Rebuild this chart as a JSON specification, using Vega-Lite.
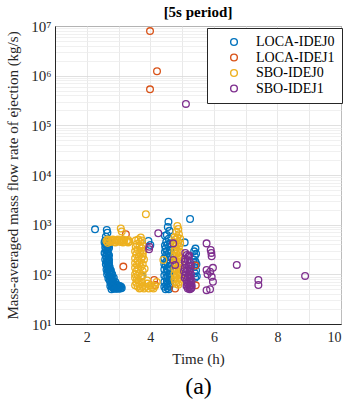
{
  "$schema": "https://vega.github.io/schema/vega-lite/v6.json",
  "width": 286,
  "height": 298,
  "autosize": {"type": "none"},
  "padding": {"left": 55, "top": 26, "right": 8, "bottom": 80},
  "config": {
    "font": "Liberation Serif",
    "view": {"stroke": "#262626", "strokeWidth": 1},
    "legend": {"labelFont": "Liberation Serif"},
    "axis": {"labelFont": "Liberation Serif", "titleFont": "Liberation Serif"}
  },
  "title": {"text": "[5s period]", "fontSize": 15, "fontWeight": "bold", "font": "Liberation Serif", "color": "#000000", "offset": -1},
  "data": {"values": [
    {"t": 2.26, "q": 805, "s": "LOCA-IDEJ0"},
    {"t": 2.63, "q": 780, "s": "LOCA-IDEJ0"},
    {"t": 2.65, "q": 690, "s": "LOCA-IDEJ0"},
    {"t": 2.6, "q": 570, "s": "LOCA-IDEJ0"},
    {"t": 2.58, "q": 480, "s": "LOCA-IDEJ0"},
    {"t": 2.62, "q": 450, "s": "LOCA-IDEJ0"},
    {"t": 2.66, "q": 420, "s": "LOCA-IDEJ0"},
    {"t": 2.6, "q": 390, "s": "LOCA-IDEJ0"},
    {"t": 2.64, "q": 360, "s": "LOCA-IDEJ0"},
    {"t": 2.7, "q": 340, "s": "LOCA-IDEJ0"},
    {"t": 2.6, "q": 310, "s": "LOCA-IDEJ0"},
    {"t": 2.66, "q": 290, "s": "LOCA-IDEJ0"},
    {"t": 2.62, "q": 270, "s": "LOCA-IDEJ0"},
    {"t": 2.68, "q": 250, "s": "LOCA-IDEJ0"},
    {"t": 2.6, "q": 230, "s": "LOCA-IDEJ0"},
    {"t": 2.64, "q": 210, "s": "LOCA-IDEJ0"},
    {"t": 2.7, "q": 195, "s": "LOCA-IDEJ0"},
    {"t": 2.62, "q": 180, "s": "LOCA-IDEJ0"},
    {"t": 2.66, "q": 165, "s": "LOCA-IDEJ0"},
    {"t": 2.7, "q": 150, "s": "LOCA-IDEJ0"},
    {"t": 2.64, "q": 140, "s": "LOCA-IDEJ0"},
    {"t": 2.68, "q": 130, "s": "LOCA-IDEJ0"},
    {"t": 2.74, "q": 120, "s": "LOCA-IDEJ0"},
    {"t": 2.66, "q": 112, "s": "LOCA-IDEJ0"},
    {"t": 2.72, "q": 105, "s": "LOCA-IDEJ0"},
    {"t": 2.78, "q": 98, "s": "LOCA-IDEJ0"},
    {"t": 2.7, "q": 92, "s": "LOCA-IDEJ0"},
    {"t": 2.76, "q": 86, "s": "LOCA-IDEJ0"},
    {"t": 2.82, "q": 80, "s": "LOCA-IDEJ0"},
    {"t": 2.72, "q": 76, "s": "LOCA-IDEJ0"},
    {"t": 2.8, "q": 72, "s": "LOCA-IDEJ0"},
    {"t": 2.86, "q": 68, "s": "LOCA-IDEJ0"},
    {"t": 2.76, "q": 64, "s": "LOCA-IDEJ0"},
    {"t": 2.84, "q": 61, "s": "LOCA-IDEJ0"},
    {"t": 2.9, "q": 58, "s": "LOCA-IDEJ0"},
    {"t": 2.8, "q": 56, "s": "LOCA-IDEJ0"},
    {"t": 2.88, "q": 54, "s": "LOCA-IDEJ0"},
    {"t": 2.96, "q": 53, "s": "LOCA-IDEJ0"},
    {"t": 2.84, "q": 52, "s": "LOCA-IDEJ0"},
    {"t": 2.92, "q": 51, "s": "LOCA-IDEJ0"},
    {"t": 3.0, "q": 51, "s": "LOCA-IDEJ0"},
    {"t": 3.06, "q": 52, "s": "LOCA-IDEJ0"},
    {"t": 2.78, "q": 50, "s": "LOCA-IDEJ0"},
    {"t": 2.98, "q": 55, "s": "LOCA-IDEJ0"},
    {"t": 3.04, "q": 58, "s": "LOCA-IDEJ0"},
    {"t": 2.95, "q": 62, "s": "LOCA-IDEJ0"},
    {"t": 2.9, "q": 70, "s": "LOCA-IDEJ0"},
    {"t": 2.85, "q": 85, "s": "LOCA-IDEJ0"},
    {"t": 2.8, "q": 100, "s": "LOCA-IDEJ0"},
    {"t": 2.76, "q": 120, "s": "LOCA-IDEJ0"},
    {"t": 2.72, "q": 140, "s": "LOCA-IDEJ0"},
    {"t": 2.7, "q": 170, "s": "LOCA-IDEJ0"},
    {"t": 2.68, "q": 200, "s": "LOCA-IDEJ0"},
    {"t": 2.7, "q": 240, "s": "LOCA-IDEJ0"},
    {"t": 2.66, "q": 320, "s": "LOCA-IDEJ0"},
    {"t": 2.7, "q": 400, "s": "LOCA-IDEJ0"},
    {"t": 2.56, "q": 440, "s": "LOCA-IDEJ0"},
    {"t": 2.68, "q": 460, "s": "LOCA-IDEJ0"},
    {"t": 2.58, "q": 350, "s": "LOCA-IDEJ0"},
    {"t": 2.68, "q": 370, "s": "LOCA-IDEJ0"},
    {"t": 2.56, "q": 270, "s": "LOCA-IDEJ0"},
    {"t": 2.64, "q": 250, "s": "LOCA-IDEJ0"},
    {"t": 2.58, "q": 200, "s": "LOCA-IDEJ0"},
    {"t": 2.66, "q": 185, "s": "LOCA-IDEJ0"},
    {"t": 2.6, "q": 160, "s": "LOCA-IDEJ0"},
    {"t": 2.68, "q": 145, "s": "LOCA-IDEJ0"},
    {"t": 2.62, "q": 125, "s": "LOCA-IDEJ0"},
    {"t": 2.7, "q": 115, "s": "LOCA-IDEJ0"},
    {"t": 2.64, "q": 100, "s": "LOCA-IDEJ0"},
    {"t": 2.74, "q": 90, "s": "LOCA-IDEJ0"},
    {"t": 2.68, "q": 82, "s": "LOCA-IDEJ0"},
    {"t": 2.78, "q": 78, "s": "LOCA-IDEJ0"},
    {"t": 2.74, "q": 70, "s": "LOCA-IDEJ0"},
    {"t": 2.82, "q": 65, "s": "LOCA-IDEJ0"},
    {"t": 2.8, "q": 60, "s": "LOCA-IDEJ0"},
    {"t": 2.86, "q": 57, "s": "LOCA-IDEJ0"},
    {"t": 2.94, "q": 56, "s": "LOCA-IDEJ0"},
    {"t": 3.02, "q": 54, "s": "LOCA-IDEJ0"},
    {"t": 3.1, "q": 53, "s": "LOCA-IDEJ0"},
    {"t": 2.9, "q": 52, "s": "LOCA-IDEJ0"},
    {"t": 2.82, "q": 54, "s": "LOCA-IDEJ0"},
    {"t": 2.74, "q": 58, "s": "LOCA-IDEJ0"},
    {"t": 3.08, "q": 56, "s": "LOCA-IDEJ0"},
    {"t": 2.98, "q": 58, "s": "LOCA-IDEJ0"},
    {"t": 3.94, "q": 470, "s": "LOCA-IDEJ0"},
    {"t": 4.0, "q": 390, "s": "LOCA-IDEJ0"},
    {"t": 3.73, "q": 93, "s": "LOCA-IDEJ0"},
    {"t": 4.57, "q": 1150, "s": "LOCA-IDEJ0"},
    {"t": 4.55, "q": 900, "s": "LOCA-IDEJ0"},
    {"t": 4.6, "q": 750, "s": "LOCA-IDEJ0"},
    {"t": 4.52, "q": 620, "s": "LOCA-IDEJ0"},
    {"t": 4.58, "q": 520, "s": "LOCA-IDEJ0"},
    {"t": 4.5, "q": 450, "s": "LOCA-IDEJ0"},
    {"t": 4.55, "q": 400, "s": "LOCA-IDEJ0"},
    {"t": 4.6, "q": 360, "s": "LOCA-IDEJ0"},
    {"t": 4.48, "q": 330, "s": "LOCA-IDEJ0"},
    {"t": 4.53, "q": 300, "s": "LOCA-IDEJ0"},
    {"t": 4.58, "q": 270, "s": "LOCA-IDEJ0"},
    {"t": 4.5, "q": 245, "s": "LOCA-IDEJ0"},
    {"t": 4.55, "q": 220, "s": "LOCA-IDEJ0"},
    {"t": 4.6, "q": 200, "s": "LOCA-IDEJ0"},
    {"t": 4.5, "q": 180, "s": "LOCA-IDEJ0"},
    {"t": 4.55, "q": 165, "s": "LOCA-IDEJ0"},
    {"t": 4.48, "q": 150, "s": "LOCA-IDEJ0"},
    {"t": 4.6, "q": 140, "s": "LOCA-IDEJ0"},
    {"t": 4.52, "q": 128, "s": "LOCA-IDEJ0"},
    {"t": 4.56, "q": 118, "s": "LOCA-IDEJ0"},
    {"t": 4.5, "q": 108, "s": "LOCA-IDEJ0"},
    {"t": 4.6, "q": 100, "s": "LOCA-IDEJ0"},
    {"t": 4.54, "q": 92, "s": "LOCA-IDEJ0"},
    {"t": 4.5, "q": 85, "s": "LOCA-IDEJ0"},
    {"t": 4.58, "q": 78, "s": "LOCA-IDEJ0"},
    {"t": 4.52, "q": 72, "s": "LOCA-IDEJ0"},
    {"t": 4.56, "q": 66, "s": "LOCA-IDEJ0"},
    {"t": 4.5, "q": 61, "s": "LOCA-IDEJ0"},
    {"t": 4.6, "q": 57, "s": "LOCA-IDEJ0"},
    {"t": 4.54, "q": 53, "s": "LOCA-IDEJ0"},
    {"t": 4.48, "q": 50, "s": "LOCA-IDEJ0"},
    {"t": 4.62, "q": 62, "s": "LOCA-IDEJ0"},
    {"t": 4.62, "q": 90, "s": "LOCA-IDEJ0"},
    {"t": 4.62, "q": 120, "s": "LOCA-IDEJ0"},
    {"t": 4.46, "q": 600, "s": "LOCA-IDEJ0"},
    {"t": 4.62, "q": 420, "s": "LOCA-IDEJ0"},
    {"t": 4.46, "q": 380, "s": "LOCA-IDEJ0"},
    {"t": 4.46, "q": 280, "s": "LOCA-IDEJ0"},
    {"t": 4.62, "q": 300, "s": "LOCA-IDEJ0"},
    {"t": 4.44, "q": 210, "s": "LOCA-IDEJ0"},
    {"t": 4.62, "q": 230, "s": "LOCA-IDEJ0"},
    {"t": 4.44, "q": 160, "s": "LOCA-IDEJ0"},
    {"t": 4.62, "q": 170, "s": "LOCA-IDEJ0"},
    {"t": 4.44, "q": 125, "s": "LOCA-IDEJ0"},
    {"t": 4.44, "q": 95, "s": "LOCA-IDEJ0"},
    {"t": 4.62, "q": 75, "s": "LOCA-IDEJ0"},
    {"t": 4.44, "q": 70, "s": "LOCA-IDEJ0"},
    {"t": 4.44, "q": 56, "s": "LOCA-IDEJ0"},
    {"t": 4.58, "q": 50, "s": "LOCA-IDEJ0"},
    {"t": 5.25, "q": 1300, "s": "LOCA-IDEJ0"},
    {"t": 5.08, "q": 440, "s": "LOCA-IDEJ0"},
    {"t": 5.42, "q": 330, "s": "LOCA-IDEJ0"},
    {"t": 5.38, "q": 290, "s": "LOCA-IDEJ0"},
    {"t": 5.44, "q": 260, "s": "LOCA-IDEJ0"},
    {"t": 5.4, "q": 230, "s": "LOCA-IDEJ0"},
    {"t": 5.36, "q": 200, "s": "LOCA-IDEJ0"},
    {"t": 5.42, "q": 180, "s": "LOCA-IDEJ0"},
    {"t": 5.45, "q": 160, "s": "LOCA-IDEJ0"},
    {"t": 5.38, "q": 140, "s": "LOCA-IDEJ0"},
    {"t": 5.44, "q": 120, "s": "LOCA-IDEJ0"},
    {"t": 5.4, "q": 105, "s": "LOCA-IDEJ0"},
    {"t": 5.46, "q": 92, "s": "LOCA-IDEJ0"},
    {"t": 5.41, "q": 85, "s": "LOCA-IDEJ0"},
    {"t": 3.99, "q": 7900000, "s": "LOCA-IDEJ1"},
    {"t": 4.21, "q": 1230000, "s": "LOCA-IDEJ1"},
    {"t": 3.99, "q": 530000, "s": "LOCA-IDEJ1"},
    {"t": 3.23, "q": 640, "s": "LOCA-IDEJ1"},
    {"t": 3.15, "q": 143, "s": "LOCA-IDEJ1"},
    {"t": 4.12, "q": 77, "s": "LOCA-IDEJ1"},
    {"t": 4.15, "q": 61, "s": "LOCA-IDEJ1"},
    {"t": 4.78, "q": 52, "s": "LOCA-IDEJ1"},
    {"t": 5.42, "q": 150, "s": "LOCA-IDEJ1"},
    {"t": 5.43, "q": 60, "s": "LOCA-IDEJ1"},
    {"t": 2.62, "q": 470, "s": "SBO-IDEJ0"},
    {"t": 2.7, "q": 480, "s": "SBO-IDEJ0"},
    {"t": 2.78, "q": 470, "s": "SBO-IDEJ0"},
    {"t": 2.86, "q": 480, "s": "SBO-IDEJ0"},
    {"t": 2.94, "q": 470, "s": "SBO-IDEJ0"},
    {"t": 3.02, "q": 480, "s": "SBO-IDEJ0"},
    {"t": 3.1, "q": 470, "s": "SBO-IDEJ0"},
    {"t": 3.18, "q": 480, "s": "SBO-IDEJ0"},
    {"t": 3.26, "q": 470, "s": "SBO-IDEJ0"},
    {"t": 3.34, "q": 460, "s": "SBO-IDEJ0"},
    {"t": 2.66, "q": 430, "s": "SBO-IDEJ0"},
    {"t": 2.9, "q": 440, "s": "SBO-IDEJ0"},
    {"t": 3.14, "q": 440, "s": "SBO-IDEJ0"},
    {"t": 2.66, "q": 500, "s": "SBO-IDEJ0"},
    {"t": 2.82, "q": 500, "s": "SBO-IDEJ0"},
    {"t": 2.98, "q": 500, "s": "SBO-IDEJ0"},
    {"t": 3.14, "q": 500, "s": "SBO-IDEJ0"},
    {"t": 3.3, "q": 490, "s": "SBO-IDEJ0"},
    {"t": 2.74, "q": 450, "s": "SBO-IDEJ0"},
    {"t": 3.06, "q": 450, "s": "SBO-IDEJ0"},
    {"t": 3.3, "q": 440, "s": "SBO-IDEJ0"},
    {"t": 3.07, "q": 840, "s": "SBO-IDEJ0"},
    {"t": 3.1, "q": 730, "s": "SBO-IDEJ0"},
    {"t": 3.86, "q": 1620, "s": "SBO-IDEJ0"},
    {"t": 3.7, "q": 550, "s": "SBO-IDEJ0"},
    {"t": 3.62, "q": 500, "s": "SBO-IDEJ0"},
    {"t": 3.68, "q": 450, "s": "SBO-IDEJ0"},
    {"t": 3.58, "q": 410, "s": "SBO-IDEJ0"},
    {"t": 3.66, "q": 370, "s": "SBO-IDEJ0"},
    {"t": 3.72, "q": 340, "s": "SBO-IDEJ0"},
    {"t": 3.6, "q": 310, "s": "SBO-IDEJ0"},
    {"t": 3.68, "q": 280, "s": "SBO-IDEJ0"},
    {"t": 3.56, "q": 255, "s": "SBO-IDEJ0"},
    {"t": 3.64, "q": 230, "s": "SBO-IDEJ0"},
    {"t": 3.72, "q": 210, "s": "SBO-IDEJ0"},
    {"t": 3.6, "q": 190, "s": "SBO-IDEJ0"},
    {"t": 3.66, "q": 170, "s": "SBO-IDEJ0"},
    {"t": 3.58, "q": 155, "s": "SBO-IDEJ0"},
    {"t": 3.7, "q": 140, "s": "SBO-IDEJ0"},
    {"t": 3.62, "q": 128, "s": "SBO-IDEJ0"},
    {"t": 3.56, "q": 115, "s": "SBO-IDEJ0"},
    {"t": 3.66, "q": 105, "s": "SBO-IDEJ0"},
    {"t": 3.6, "q": 95, "s": "SBO-IDEJ0"},
    {"t": 3.7, "q": 88, "s": "SBO-IDEJ0"},
    {"t": 3.58, "q": 80, "s": "SBO-IDEJ0"},
    {"t": 3.64, "q": 74, "s": "SBO-IDEJ0"},
    {"t": 3.56, "q": 68, "s": "SBO-IDEJ0"},
    {"t": 3.66, "q": 62, "s": "SBO-IDEJ0"},
    {"t": 3.6, "q": 57, "s": "SBO-IDEJ0"},
    {"t": 3.7, "q": 53, "s": "SBO-IDEJ0"},
    {"t": 3.78, "q": 300, "s": "SBO-IDEJ0"},
    {"t": 3.8, "q": 200, "s": "SBO-IDEJ0"},
    {"t": 3.82, "q": 130, "s": "SBO-IDEJ0"},
    {"t": 3.54, "q": 480, "s": "SBO-IDEJ0"},
    {"t": 3.74, "q": 480, "s": "SBO-IDEJ0"},
    {"t": 3.54, "q": 360, "s": "SBO-IDEJ0"},
    {"t": 3.76, "q": 380, "s": "SBO-IDEJ0"},
    {"t": 3.52, "q": 290, "s": "SBO-IDEJ0"},
    {"t": 3.76, "q": 260, "s": "SBO-IDEJ0"},
    {"t": 3.52, "q": 210, "s": "SBO-IDEJ0"},
    {"t": 3.76, "q": 230, "s": "SBO-IDEJ0"},
    {"t": 3.52, "q": 170, "s": "SBO-IDEJ0"},
    {"t": 3.76, "q": 160, "s": "SBO-IDEJ0"},
    {"t": 3.52, "q": 135, "s": "SBO-IDEJ0"},
    {"t": 3.76, "q": 115, "s": "SBO-IDEJ0"},
    {"t": 3.52, "q": 100, "s": "SBO-IDEJ0"},
    {"t": 3.76, "q": 95, "s": "SBO-IDEJ0"},
    {"t": 3.52, "q": 85, "s": "SBO-IDEJ0"},
    {"t": 3.74, "q": 70, "s": "SBO-IDEJ0"},
    {"t": 3.52, "q": 60, "s": "SBO-IDEJ0"},
    {"t": 3.76, "q": 58, "s": "SBO-IDEJ0"},
    {"t": 3.66, "q": 52, "s": "SBO-IDEJ0"},
    {"t": 3.8, "q": 52, "s": "SBO-IDEJ0"},
    {"t": 3.86, "q": 56, "s": "SBO-IDEJ0"},
    {"t": 3.95, "q": 52, "s": "SBO-IDEJ0"},
    {"t": 4.05, "q": 54, "s": "SBO-IDEJ0"},
    {"t": 4.15, "q": 58, "s": "SBO-IDEJ0"},
    {"t": 4.2, "q": 70, "s": "SBO-IDEJ0"},
    {"t": 3.9, "q": 65, "s": "SBO-IDEJ0"},
    {"t": 4.0, "q": 60, "s": "SBO-IDEJ0"},
    {"t": 4.1, "q": 52, "s": "SBO-IDEJ0"},
    {"t": 3.9, "q": 75, "s": "SBO-IDEJ0"},
    {"t": 4.41, "q": 195, "s": "SBO-IDEJ0"},
    {"t": 4.85, "q": 940, "s": "SBO-IDEJ0"},
    {"t": 4.88, "q": 820, "s": "SBO-IDEJ0"},
    {"t": 4.82, "q": 720, "s": "SBO-IDEJ0"},
    {"t": 4.9, "q": 640, "s": "SBO-IDEJ0"},
    {"t": 4.85, "q": 560, "s": "SBO-IDEJ0"},
    {"t": 4.8, "q": 500, "s": "SBO-IDEJ0"},
    {"t": 4.88, "q": 450, "s": "SBO-IDEJ0"},
    {"t": 4.84, "q": 400, "s": "SBO-IDEJ0"},
    {"t": 4.9, "q": 360, "s": "SBO-IDEJ0"},
    {"t": 4.8, "q": 320, "s": "SBO-IDEJ0"},
    {"t": 4.86, "q": 290, "s": "SBO-IDEJ0"},
    {"t": 4.82, "q": 260, "s": "SBO-IDEJ0"},
    {"t": 4.88, "q": 230, "s": "SBO-IDEJ0"},
    {"t": 4.84, "q": 205, "s": "SBO-IDEJ0"},
    {"t": 4.9, "q": 180, "s": "SBO-IDEJ0"},
    {"t": 4.8, "q": 160, "s": "SBO-IDEJ0"},
    {"t": 4.86, "q": 140, "s": "SBO-IDEJ0"},
    {"t": 4.82, "q": 125, "s": "SBO-IDEJ0"},
    {"t": 4.88, "q": 110, "s": "SBO-IDEJ0"},
    {"t": 4.84, "q": 98, "s": "SBO-IDEJ0"},
    {"t": 4.8, "q": 88, "s": "SBO-IDEJ0"},
    {"t": 4.86, "q": 78, "s": "SBO-IDEJ0"},
    {"t": 4.9, "q": 70, "s": "SBO-IDEJ0"},
    {"t": 4.82, "q": 64, "s": "SBO-IDEJ0"},
    {"t": 4.92, "q": 100, "s": "SBO-IDEJ0"},
    {"t": 4.92, "q": 150, "s": "SBO-IDEJ0"},
    {"t": 4.78, "q": 200, "s": "SBO-IDEJ0"},
    {"t": 4.78, "q": 380, "s": "SBO-IDEJ0"},
    {"t": 4.76, "q": 560, "s": "SBO-IDEJ0"},
    {"t": 4.94, "q": 520, "s": "SBO-IDEJ0"},
    {"t": 4.76, "q": 440, "s": "SBO-IDEJ0"},
    {"t": 4.94, "q": 420, "s": "SBO-IDEJ0"},
    {"t": 4.76, "q": 300, "s": "SBO-IDEJ0"},
    {"t": 4.94, "q": 280, "s": "SBO-IDEJ0"},
    {"t": 4.76, "q": 240, "s": "SBO-IDEJ0"},
    {"t": 4.94, "q": 220, "s": "SBO-IDEJ0"},
    {"t": 4.76, "q": 170, "s": "SBO-IDEJ0"},
    {"t": 4.94, "q": 170, "s": "SBO-IDEJ0"},
    {"t": 4.76, "q": 130, "s": "SBO-IDEJ0"},
    {"t": 4.94, "q": 125, "s": "SBO-IDEJ0"},
    {"t": 4.76, "q": 100, "s": "SBO-IDEJ0"},
    {"t": 4.94, "q": 88, "s": "SBO-IDEJ0"},
    {"t": 4.76, "q": 80, "s": "SBO-IDEJ0"},
    {"t": 4.88, "q": 62, "s": "SBO-IDEJ0"},
    {"t": 4.78, "q": 70, "s": "SBO-IDEJ0"},
    {"t": 5.12, "q": 270000, "s": "SBO-IDEJ1"},
    {"t": 4.25, "q": 670, "s": "SBO-IDEJ1"},
    {"t": 3.97, "q": 360, "s": "SBO-IDEJ1"},
    {"t": 3.96, "q": 320, "s": "SBO-IDEJ1"},
    {"t": 4.72, "q": 420, "s": "SBO-IDEJ1"},
    {"t": 4.72, "q": 195, "s": "SBO-IDEJ1"},
    {"t": 4.78, "q": 155, "s": "SBO-IDEJ1"},
    {"t": 5.1, "q": 270, "s": "SBO-IDEJ1"},
    {"t": 5.15, "q": 245, "s": "SBO-IDEJ1"},
    {"t": 5.2, "q": 225, "s": "SBO-IDEJ1"},
    {"t": 5.1, "q": 205, "s": "SBO-IDEJ1"},
    {"t": 5.18, "q": 190, "s": "SBO-IDEJ1"},
    {"t": 5.25, "q": 175, "s": "SBO-IDEJ1"},
    {"t": 5.12, "q": 160, "s": "SBO-IDEJ1"},
    {"t": 5.2, "q": 148, "s": "SBO-IDEJ1"},
    {"t": 5.08, "q": 135, "s": "SBO-IDEJ1"},
    {"t": 5.16, "q": 125, "s": "SBO-IDEJ1"},
    {"t": 5.24, "q": 118, "s": "SBO-IDEJ1"},
    {"t": 5.12, "q": 110, "s": "SBO-IDEJ1"},
    {"t": 5.2, "q": 102, "s": "SBO-IDEJ1"},
    {"t": 5.1, "q": 95, "s": "SBO-IDEJ1"},
    {"t": 5.18, "q": 88, "s": "SBO-IDEJ1"},
    {"t": 5.26, "q": 82, "s": "SBO-IDEJ1"},
    {"t": 5.14, "q": 76, "s": "SBO-IDEJ1"},
    {"t": 5.22, "q": 71, "s": "SBO-IDEJ1"},
    {"t": 5.28, "q": 66, "s": "SBO-IDEJ1"},
    {"t": 5.2, "q": 62, "s": "SBO-IDEJ1"},
    {"t": 5.26, "q": 58, "s": "SBO-IDEJ1"},
    {"t": 5.22, "q": 55, "s": "SBO-IDEJ1"},
    {"t": 5.28, "q": 52, "s": "SBO-IDEJ1"},
    {"t": 5.24, "q": 50, "s": "SBO-IDEJ1"},
    {"t": 5.3, "q": 54, "s": "SBO-IDEJ1"},
    {"t": 5.22, "q": 240, "s": "SBO-IDEJ1"},
    {"t": 5.08, "q": 180, "s": "SBO-IDEJ1"},
    {"t": 5.28, "q": 150, "s": "SBO-IDEJ1"},
    {"t": 5.06, "q": 115, "s": "SBO-IDEJ1"},
    {"t": 5.28, "q": 100, "s": "SBO-IDEJ1"},
    {"t": 5.08, "q": 85, "s": "SBO-IDEJ1"},
    {"t": 5.3, "q": 75, "s": "SBO-IDEJ1"},
    {"t": 5.16, "q": 68, "s": "SBO-IDEJ1"},
    {"t": 5.3, "q": 60, "s": "SBO-IDEJ1"},
    {"t": 5.18, "q": 52, "s": "SBO-IDEJ1"},
    {"t": 5.14, "q": 58, "s": "SBO-IDEJ1"},
    {"t": 5.24, "q": 90, "s": "SBO-IDEJ1"},
    {"t": 5.26, "q": 130, "s": "SBO-IDEJ1"},
    {"t": 5.77, "q": 420, "s": "SBO-IDEJ1"},
    {"t": 5.9, "q": 310, "s": "SBO-IDEJ1"},
    {"t": 5.92, "q": 270, "s": "SBO-IDEJ1"},
    {"t": 5.93, "q": 230, "s": "SBO-IDEJ1"},
    {"t": 5.97, "q": 135, "s": "SBO-IDEJ1"},
    {"t": 5.77, "q": 122, "s": "SBO-IDEJ1"},
    {"t": 5.8, "q": 100, "s": "SBO-IDEJ1"},
    {"t": 5.88, "q": 113, "s": "SBO-IDEJ1"},
    {"t": 5.97, "q": 71, "s": "SBO-IDEJ1"},
    {"t": 5.77, "q": 48, "s": "SBO-IDEJ1"},
    {"t": 5.88, "q": 50, "s": "SBO-IDEJ1"},
    {"t": 5.93, "q": 89, "s": "SBO-IDEJ1"},
    {"t": 6.72, "q": 155, "s": "SBO-IDEJ1"},
    {"t": 7.4, "q": 77, "s": "SBO-IDEJ1"},
    {"t": 7.4, "q": 61, "s": "SBO-IDEJ1"},
    {"t": 8.87, "q": 93, "s": "SBO-IDEJ1"}
  ]},
  "layer": [
    {
      "mark": {"type": "point", "filled": false, "strokeWidth": 1.3, "size": 45, "opacity": 1},
      "encoding": {
        "x": {
          "field": "t", "type": "quantitative",
          "scale": {"domain": [1, 10], "nice": false, "zero": false},
          "axis": {
            "values": [1, 1.5, 2, 2.5, 3, 3.5, 4, 4.5, 5, 5.5, 6, 6.5, 7, 7.5, 8, 8.5, 9, 9.5, 10],
            "format": "d",
            "labelExpr": "datum.value % 2 === 0 ? datum.label : ''",
            "labelFontSize": 14, "labelColor": "#262626", "labelPadding": 6,
            "ticks": false, "domainColor": "#262626",
            "grid": true, "gridColor": "#e3e3e3", "gridWidth": 0.8,
            "title": "Time (h)", "titleFontSize": 15, "titleFontWeight": "normal", "titleColor": "#262626",
            "titleBaseline": "middle", "titleY": 34
          }
        },
        "y": {
          "field": "q", "type": "quantitative",
          "scale": {"type": "log", "domain": [10, 10000000], "nice": false},
          "axis": {
            "values": [10, 20, 30, 40, 50, 60, 70, 80, 90, 100, 200, 300, 400, 500, 600, 700, 800, 900, 1000, 2000, 3000, 4000, 5000, 6000, 7000, 8000, 9000, 10000, 20000, 30000, 40000, 50000, 60000, 70000, 80000, 90000, 100000, 200000, 300000, 400000, 500000, 600000, 700000, 800000, 900000, 1000000, 2000000, 3000000, 4000000, 5000000, 6000000, 7000000, 8000000, 9000000, 10000000],
            "labelExpr": "indexof([10,100,1000,10000,100000,1000000,10000000], datum.value) >= 0 ? '10' + ['¹','²','³','⁴','⁵','⁶','⁷'][indexof([10,100,1000,10000,100000,1000000,10000000], datum.value)] : ''",
            "labelFontSize": 15, "labelColor": "#262626", "labelPadding": 4,
            "ticks": false, "domainColor": "#262626",
            "grid": true,
            "gridColor": {"condition": {"test": "indexof([10,100,1000,10000,100000,1000000,10000000], datum.value) >= 0", "value": "#d8d8d8"}, "value": "#ececec"},
            "gridWidth": 0.8,
            "title": "Mass-averaged mass flow rate of ejection (kg/s)", "titleFontSize": 15, "titleFontWeight": "normal", "titleColor": "#262626",
            "titleAngle": 270, "titleBaseline": "middle", "titleX": -43, "titleY": 149
          }
        },
        "color": {
          "field": "s", "type": "nominal",
          "scale": {"domain": ["LOCA-IDEJ0", "LOCA-IDEJ1", "SBO-IDEJ0", "SBO-IDEJ1"], "range": ["#0072BD", "#D95319", "#EDB120", "#7E2F8E"]},
          "legend": {
            "title": null, "orient": "none", "legendX": 152, "legendY": 2,
            "padding": 7, "strokeColor": "#262626", "fillColor": "#ffffff",
            "symbolType": "circle", "symbolSize": 45, "symbolStrokeWidth": 1.4, "symbolFillColor": "transparent",
            "symbolOffset": 13, "labelOffset": 15, "labelFontSize": 14, "labelFont": "Liberation Serif", "labelFontWeight": "normal", "labelColor": "#000000", "rowPadding": 1.5
          }
        }
      }
    },
    {
      "mark": {"type": "point", "opacity": 0},
      "encoding": {
        "x": {
          "field": "t", "type": "quantitative",
          "axis": {
            "orient": "bottom", "labels": false, "ticks": false, "domain": false, "grid": false,
            "title": "(a)", "titleFontSize": 24, "titleFontWeight": "normal", "titleColor": "#000000",
            "titleBaseline": "middle", "titleY": 62
          }
        }
      }
    }
  ],
  "resolve": {"axis": {"x": "independent"}}
}
